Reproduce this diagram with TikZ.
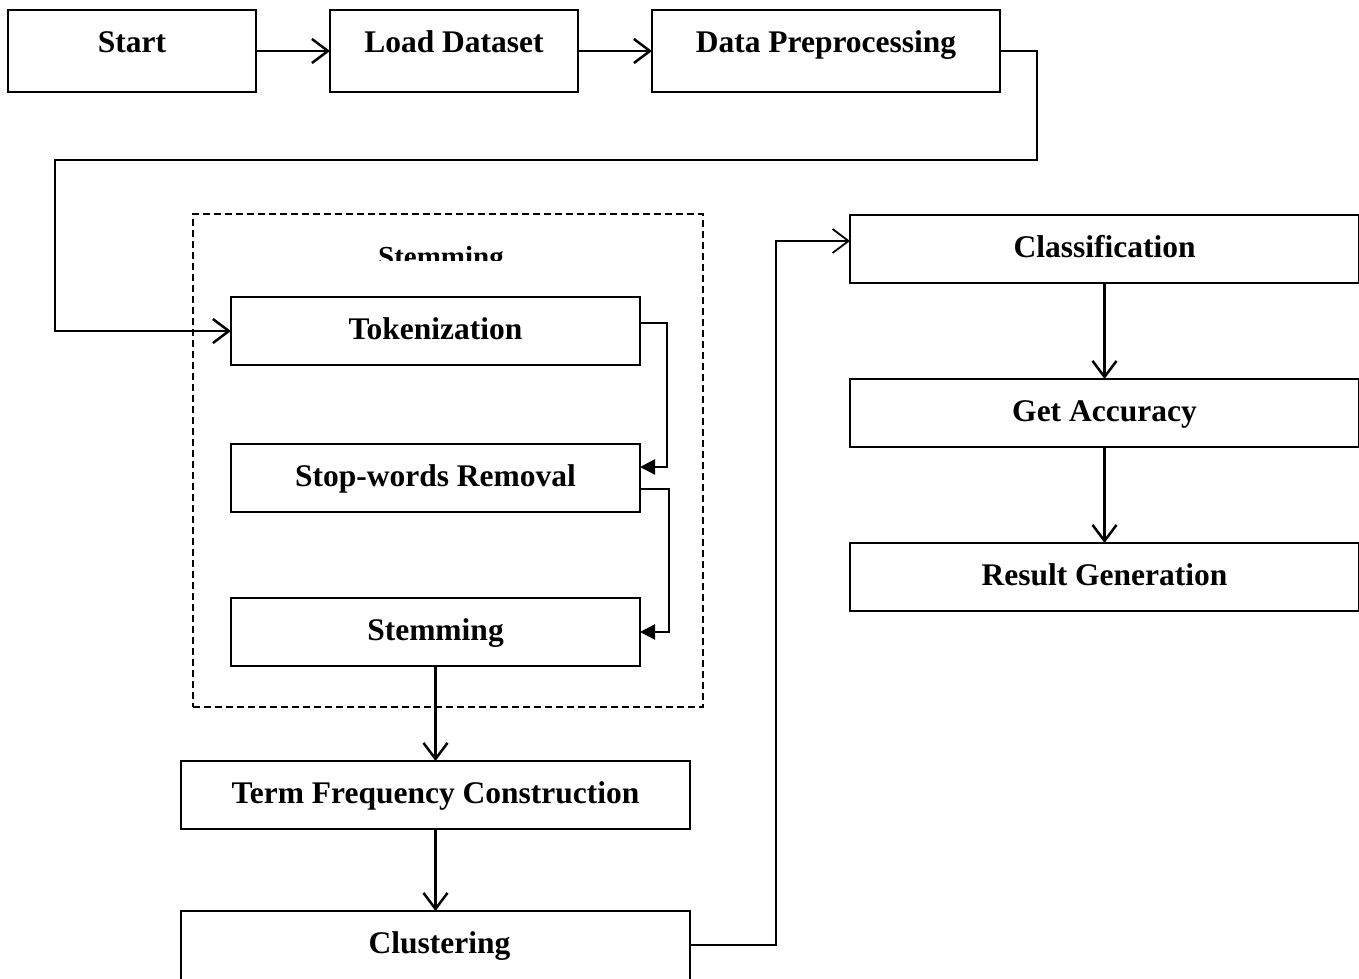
\documentclass[tikz,border=0pt]{standalone}
\usepackage{fontspec}
\setmainfont{Liberation Serif}
\usetikzlibrary{arrows.meta,positioning}
\tikzset{
  blk/.style = {rectangle, draw=black, line width=2.5pt, inner xsep=0pt,
    inner ysep=0pt, outer sep=0pt, text height=42pt, text depth=26pt,
    font=\fontsize{31.5}{36}\selectfont\bfseries},% step box
  blk_top/.style = {blk, text height=43pt, text depth=39pt},% first row
  grp/.style = {rectangle, draw=black, line width=2.5pt,
    dash pattern=on 7pt off 4pt},% preprocessing group
  lnk/.style = {line width=2.5pt, -{Straight Barb[length=16pt,width=24pt]}},
  lnk_f/.style = {line width=2.5pt, -{Triangle[length=15pt,width=15pt]}}
}
\begin{document}
\begin{tikzpicture}[x=1pt,y=-1pt]
        \useasboundingbox (0,0) rectangle (1359,979);
        % first row
        \node [blk_top, minimum width=248pt] (start) at (132,51) {Start};
        \node [blk_top, minimum width=248pt, right=74pt of start] (load) {Load Dataset};
        \node [blk_top, minimum width=348pt, right=74pt of load] (dp) {Data Preprocessing};
        % preprocessing group
        \node [grp, minimum width=510pt, minimum height=493pt] (grp) at (448,460.5) {};
        \begin{scope}
            \clip (193,214) rectangle (703,260);
            \node [anchor=base, font=\fontsize{29}{34}\selectfont\bfseries] (grplbl) at (441,266) {Stemming};
        \end{scope}
        \node [blk, minimum width=409pt] (tok) at (435.5,331) {Tokenization};
        \node [blk, minimum width=409pt, below=79pt of tok] (stop) {Stop-words Removal};
        \node [blk, minimum width=409pt, below=86pt of stop] (stem) {Stemming};
        \node [blk, minimum width=509pt, below=95pt of stem] (term) {Term Frequency Construction};
        \node [blk, minimum width=509pt, text depth=34pt, below=82pt of term] (clu) {\hspace{8pt}Clustering};
        % right column
        \node [blk, minimum width=509pt] (cls) at (1104.5,249) {Classification};
        \node [blk, minimum width=509pt, below=96pt of cls] (acc) {Get Accuracy};
        \node [blk, minimum width=509pt, below=96pt of acc] (res) {Result Generation};
        % links
        \draw [lnk] (start) -- (load);
        \draw [lnk] (load) -- (dp);
        \draw [lnk] (dp.east) -- (1037,51) -- (1037,160) -- (55,160) -- (55,331) -- (tok.west);
        \draw [lnk_f] ([yshift=8pt]tok.east) -- ++(27,0) |- ([yshift=11pt]stop.east);
        \draw [lnk_f] ([yshift=-11pt]stop.east) -- ++(29,0) |- (stem.east);
        \draw [lnk] (stem) -- (term);
        \draw [lnk] (term) -- (clu);
        \draw [lnk, line width=1.8pt] ([yshift=4pt]clu.east) -- ++(86,0) |- ([yshift=8pt]cls.west);
        \draw [lnk] (cls) -- (acc);
        \draw [lnk] (acc) -- (res);
\end{tikzpicture}
\end{document}
